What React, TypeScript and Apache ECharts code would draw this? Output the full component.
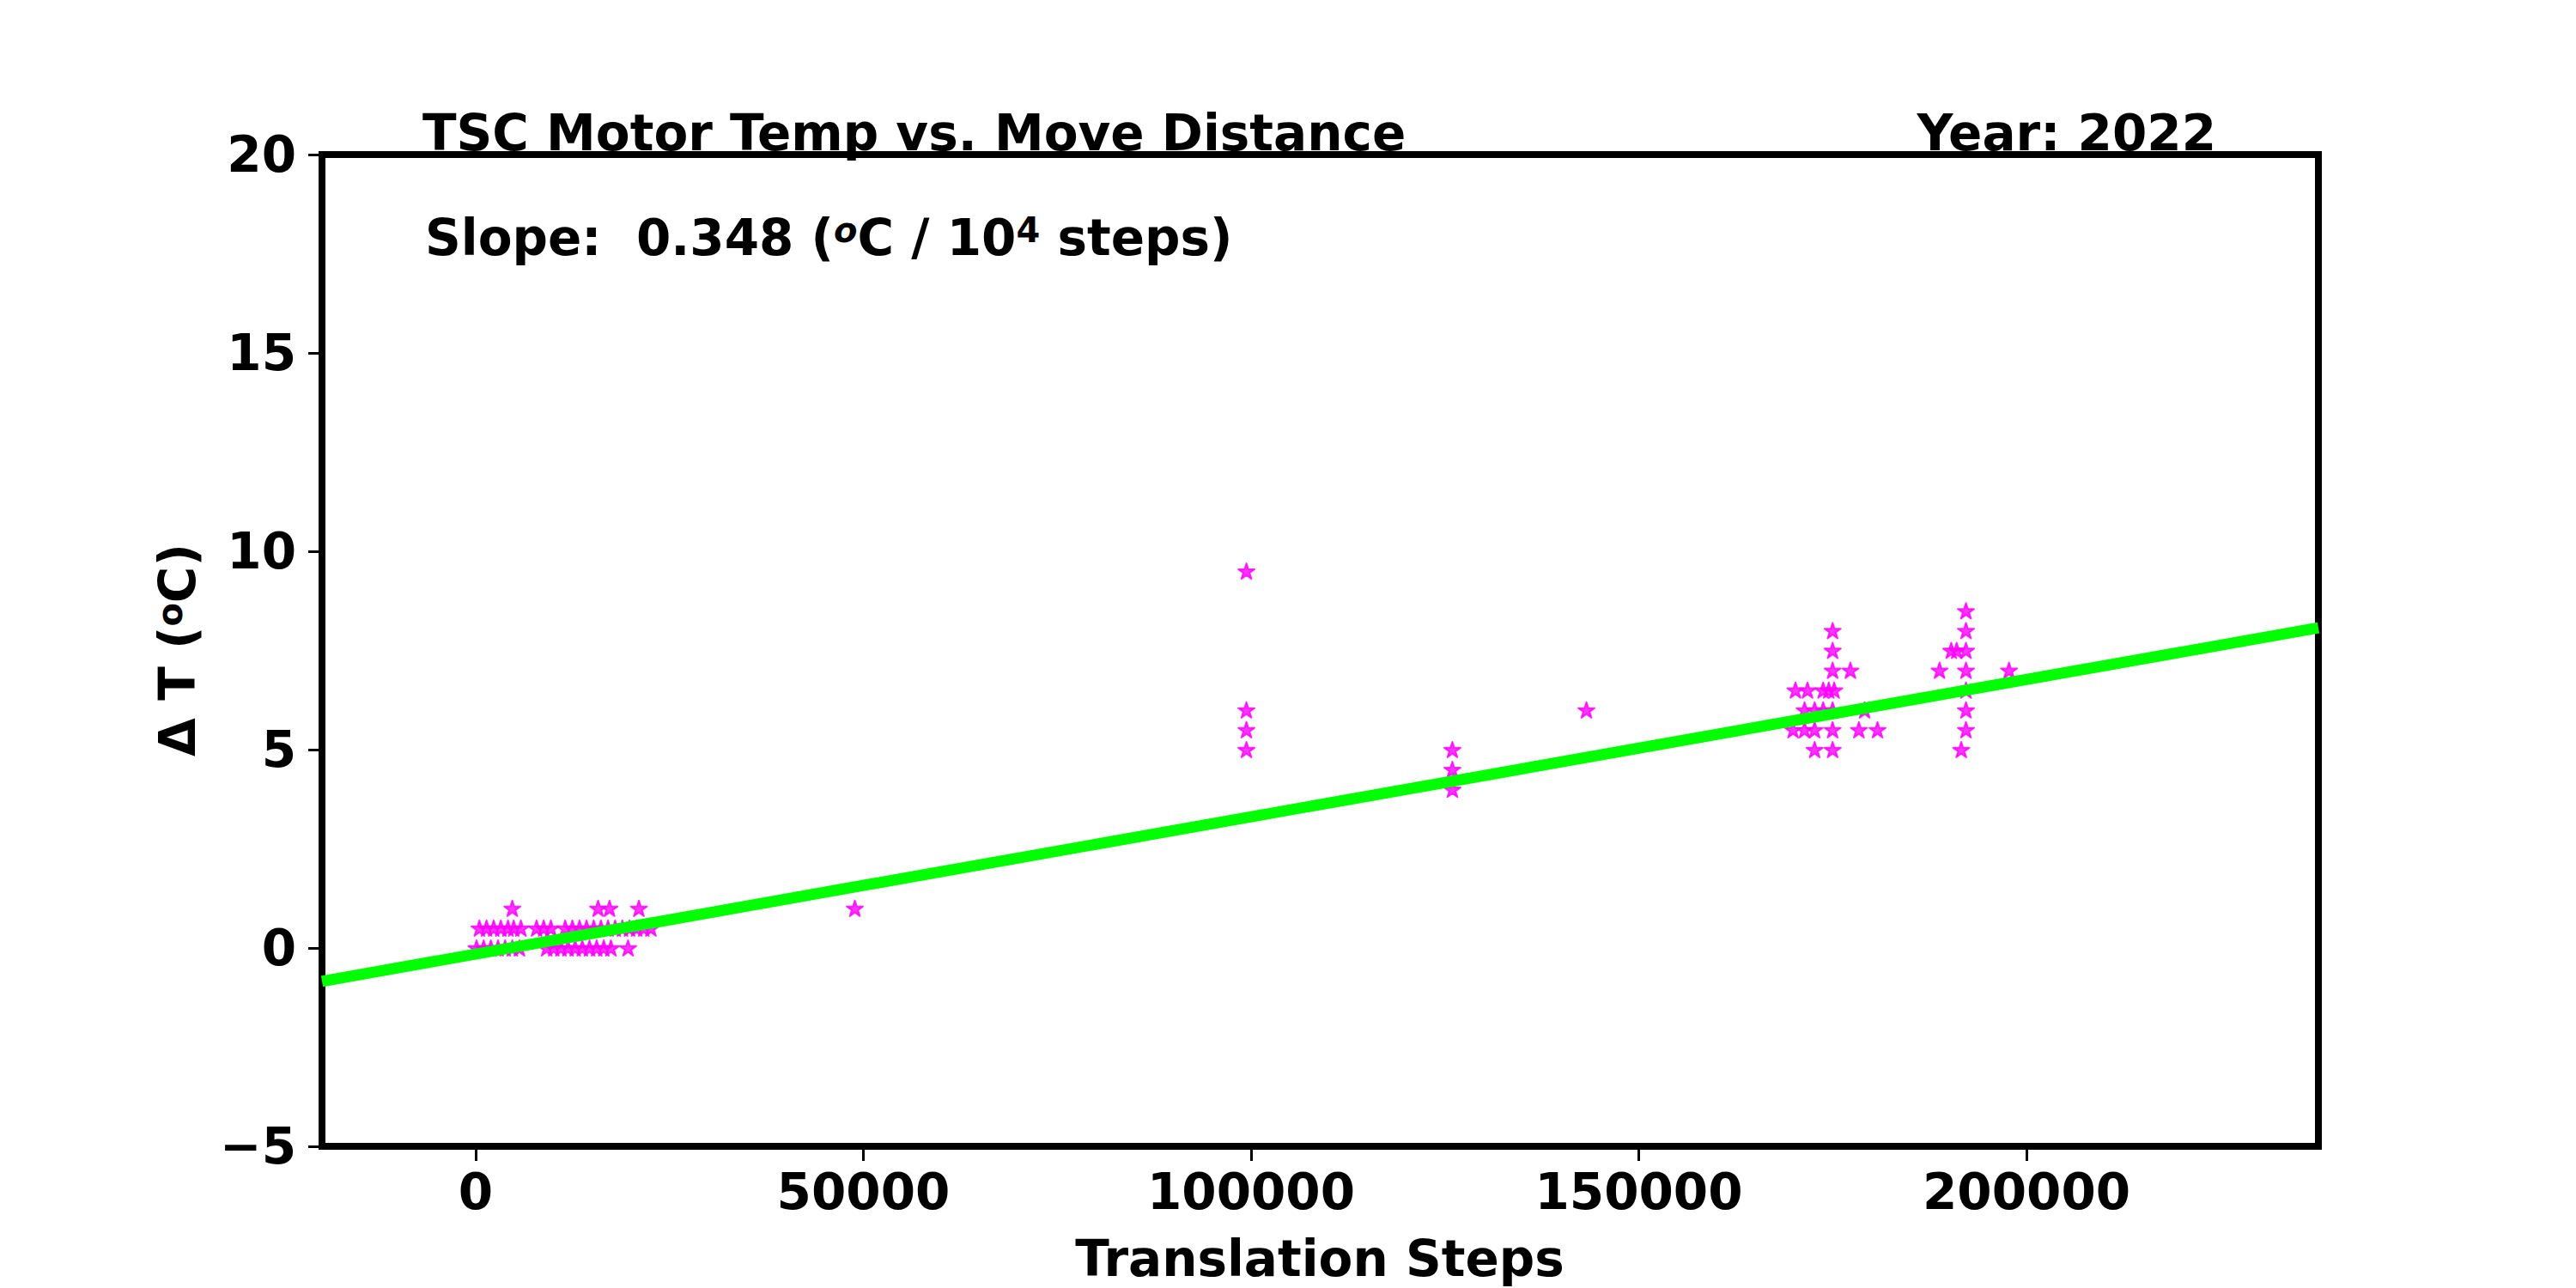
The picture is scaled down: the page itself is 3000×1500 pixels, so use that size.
import React, { useEffect, useRef } from "react";
import * as echarts from "echarts";

// ---- data ----
const titleText = "TSC Motor Temp vs. Move Distance";
const yearText = "Year: 2022";
const slopeValue = "0.348";
const xAxisTitle = "Translation Steps";

const xMin = -19820;
const xMax = 237650;
const yMin = -5;
const yMax = 20;
const yStep = 5;
const xTickValues = [0, 50000, 100000, 150000, 200000];

// points near zero steps
const nearZeroAt1 = [4720, 15790, 17260, 21050];
const nearZeroAtHalf = [
  480, 1400, 2320, 3240, 4170, 4900, 5830, 7850, 8770, 9700, 11540, 12470,
  13390, 14300, 15230, 16150, 17070, 17990, 18920, 19840, 20760, 21680, 22600,
];
const nearZeroAt0 = [
  110, 1030, 1960, 2880, 3800, 4720, 5640, 9150, 10070, 10990, 11910, 12830,
  13750, 14680, 15600, 16520, 17440, 19650,
];

// isolated points [steps, deltaT]
const midPoints: [number, number][] = [
  [48900, 1.0],
  [99400, 9.5],
  [99400, 6.0],
  [99400, 5.5],
  [99400, 5.0],
  [125960, 5.0],
  [125960, 4.5],
  [125960, 4.0],
  [143250, 6.0],
];

// cluster 170k - 200k
const farCluster: [number, number][] = [
  [192200, 8.5],
  [175000, 8.0],
  [192200, 8.0],
  [175000, 7.5],
  [190300, 7.5],
  [191000, 7.5],
  [192200, 7.5],
  [175000, 7.0],
  [177290, 7.0],
  [188790, 7.0],
  [192200, 7.0],
  [197750, 7.0],
  [170210, 6.5],
  [171760, 6.5],
  [173780, 6.5],
  [174500, 6.5],
  [175200, 6.5],
  [192200, 6.5],
  [171380, 6.0],
  [172680, 6.0],
  [173780, 6.0],
  [175000, 6.0],
  [179130, 6.0],
  [192200, 6.0],
  [169900, 5.5],
  [171380, 5.5],
  [172680, 5.5],
  [175000, 5.5],
  [178390, 5.5],
  [180790, 5.5],
  [192200, 5.5],
  [172680, 5.0],
  [175000, 5.0],
  [191590, 5.0],
];

// least-squares line as drawn (ends at the axis limits)
const fitX = [xMin, xMax];
const fitY = [-0.84, 8.07];

const FONT = "DejaVu Sans";
const STAR =
  "path://M50,0 L61.23,34.55 L97.55,34.55 L68.16,55.9 L79.39,90.45 L50,69.1 L20.61,90.45 L31.84,55.9 L2.45,34.55 L38.77,34.55 Z";

export default function App() {
  const ref = useRef<HTMLDivElement>(null);

  useEffect(() => {
    if (!ref.current) return;
    const chart = echarts.init(ref.current, null, { renderer: "svg" });

    const scatterData: [number, number][] = [
      ...nearZeroAt1.map((x) => [x, 1] as [number, number]),
      ...nearZeroAtHalf.map((x) => [x, 0.5] as [number, number]),
      ...nearZeroAt0.map((x) => [x, 0] as [number, number]),
      ...midPoints,
      ...farCluster,
    ];
    const lineData = fitX.map((x, i) => [x, fitY[i]]);

    const base = { fontFamily: FONT, fontWeight: "bold", fontSize: 58, lineHeight: 58, fill: "#000", color: "#000" };
    const sup = { fontFamily: FONT, fontWeight: "bold", fontSize: 40, lineHeight: 20, verticalAlign: "top", fill: "#000", color: "#000" };
    const supIt = { ...sup, fontStyle: "italic" };

    chart.setOption({
      animation: false,
      backgroundColor: "#fff",
      grid: {
        left: 375,
        top: 180,
        width: 2325,
        height: 1155,
        show: true,
        borderColor: "#000",
        borderWidth: 8,
        backgroundColor: "transparent",
      },
      xAxis: {
        type: "value",
        min: xMin,
        max: xMax,
        axisLine: { show: false, onZero: false },
        splitLine: { show: false },
        axisTick: {
          show: true,
          length: 17,
          customValues: xTickValues,
          lineStyle: { color: "#000", width: 3 },
        },
        axisLabel: {
          customValues: xTickValues,
          margin: 24,
          fontSize: 58,
          fontWeight: "bold",
          fontFamily: FONT,
          color: "#000",
          formatter: (v: number) => String(v),
        },
      },
      yAxis: {
        type: "value",
        min: yMin,
        max: yMax,
        interval: yStep,
        axisLine: { show: false, onZero: false },
        splitLine: { show: false },
        axisTick: { show: true, length: 16, lineStyle: { color: "#000", width: 3 } },
        axisLabel: {
          margin: 30,
          fontSize: 58,
          fontWeight: "bold",
          fontFamily: FONT,
          color: "#000",
          formatter: (v: number) => String(v).replace("-", "\u2212"),
        },
      },
      series: [
        {
          type: "scatter",
          data: scatterData,
          symbol: STAR,
          symbolSize: 19,
          symbolKeepAspect: true,
          itemStyle: { color: "#ff00ff", borderColor: "#ff00ff", borderWidth: 2, borderJoin: "round" },
          z: 2,
        },
        {
          type: "line",
          data: lineData,
          showSymbol: false,
          symbol: "none",
          lineStyle: { color: "#00ff00", width: 13 },
          z: 3,
        },
      ],
      graphic: [
        {
          type: "text",
          x: 492,
          y: 155,
          style: { text: titleText, ...base, align: "left", verticalAlign: "middle" },
        },
        {
          type: "text",
          x: 2581,
          y: 155,
          style: { text: yearText, ...base, align: "right", verticalAlign: "middle" },
        },
        {
          type: "text",
          x: 495,
          y: 277,
          style: {
            text: `{a|Slope:  ${slopeValue} (}{s|o}{a|C / 10}{p|4}{a| steps)}`,
            align: "left",
            verticalAlign: "middle",
            rich: { a: base, s: supIt, p: sup },
          },
        },
        {
          type: "text",
          x: 207,
          y: 757,
          rotation: Math.PI / 2,
          style: {
            text: "{a|\u0394 T (}{s|o}{a|C)}",
            align: "center",
            verticalAlign: "middle",
            rich: { a: base, s: sup },
          },
        },
        {
          type: "text",
          x: 1537,
          y: 1466,
          style: { text: xAxisTitle, ...base, align: "center", verticalAlign: "middle" },
        },
      ],
    });

    return () => chart.dispose();
  }, []);

  return (
    <div
      ref={ref}
      style={{ position: "absolute", left: 0, top: 0, width: 3000, height: 1500, background: "#fff" }}
    />
  );
}
